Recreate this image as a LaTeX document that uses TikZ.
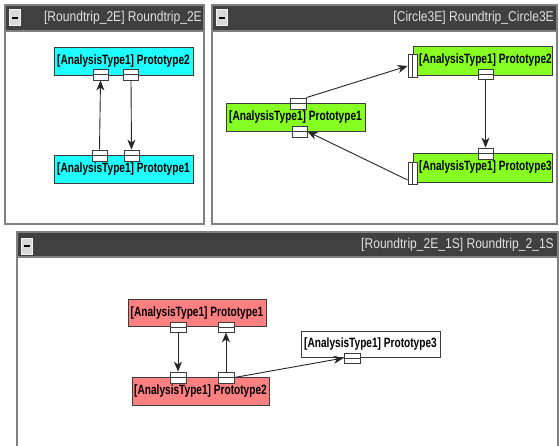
\documentclass[tikz,border=0pt]{standalone}
\usepackage{fontspec}
\usetikzlibrary{arrows.meta,calc}
\newfontfamily\boxfont[FakeStretch=0.75]{Liberation Sans}
\newfontfamily\titlefont[FakeStretch=0.85]{Liberation Sans}
\definecolor{barcol}{RGB}{64,64,64}
\definecolor{framecol}{RGB}{128,128,128}
\definecolor{titletext}{RGB}{224,224,224}
\definecolor{cyanbox}{RGB}{32,255,255}
\definecolor{greenbox}{RGB}{136,255,34}
\definecolor{redbox}{RGB}{255,128,128}
\definecolor{edgecol}{RGB}{60,60,60}
\tikzset{
  panel/.style={draw=framecol, line width=1.2pt, fill=white},
  titlebar/.style={fill=barcol, draw=framecol, line width=1.2pt},
  ttext/.style={text=titletext, font=\titlefont\fontsize{14.2}{16}\selectfont, inner sep=0pt, anchor=east},
  btn/.style={fill=black!15, draw=black!5, line width=0.8pt, minimum width=11pt, minimum height=16pt, inner sep=0pt},
  proto/.style={draw=edgecol, line width=1pt, minimum width=139pt, minimum height=28pt, inner sep=0pt, font=\boxfont\bfseries\fontsize{13.5}{15}\selectfont},
  hport/.style={draw=edgecol, fill=white, line width=0.8pt, minimum width=15pt, minimum height=11pt, inner sep=0pt,
    path picture={\draw[edgecol, line width=0.8pt] (path picture bounding box.west) -- (path picture bounding box.east);}},
  vport/.style={draw=edgecol, fill=white, line width=0.8pt, minimum width=9pt, minimum height=23pt, inner sep=0pt,
    path picture={\draw[edgecol, line width=0.8pt] (path picture bounding box.north) -- (path picture bounding box.south);}},
  arr/.style={draw=black!85, line width=0.9pt, -{Stealth[length=10pt,width=8pt,inset=3pt]}}
}
\begin{document}
\begin{tikzpicture}[x=1pt,y=-1pt]
\useasboundingbox (0,0) rectangle (559,445);
\begin{scope}
\clip (0,0) rectangle (559,445);
% panel 1
\draw[panel] (5,5) rectangle (204,224);
\draw[titlebar] (5,5) rectangle (204,31);
\node[btn] (b1) at (14.5,17.5) {};
\fill (b1.center) ++(-3,-1) rectangle ++(6,2);
\node[ttext] (t1) at (202,18) {[Roundtrip\_2E] Roundtrip\_2E};
% panel 2
\draw[panel] (212,5) rectangle (557,224);
\draw[titlebar] (212,5) rectangle (557,31);
\node[btn] (b2) at (221.5,17.5) {};
\fill (b2.center) ++(-3,-1) rectangle ++(6,2);
\node[ttext] (t2) at (554,18) {[Circle3E] Roundtrip\_Circle3E};
% panel 3
\draw[panel] (17,232) rectangle (558,460);
\draw[titlebar] (17,232) rectangle (558,257);
\node[btn] (b3) at (26.5,246) {};
\fill (b3.center) ++(-3,-1) rectangle ++(6,2);
\node[ttext] (t3) at (554,244.5) {[Roundtrip\_2E\_1S] Roundtrip\_2\_1S};
\end{scope}

% ---- panel 1 diagram
\node[proto, fill=cyanbox] (a2) at (123.5,61) {[AnalysisType1] Prototype2};
\node[proto, fill=cyanbox] (a1) at (123.5,169) {[AnalysisType1] Prototype1};
\node[hport] (pa) at (100.5,74.5) {};
\node[hport] (pb) at (131,74.5) {};
\node[hport] (pc) at (99.5,155.5) {};
\node[hport] (pd) at (131.5,155.5) {};
\draw[arr] (pc.north) -- (pa.south);
\draw[arr] (pb.south) -- (pd.north);

% ---- panel 2 diagram
\node[proto, fill=greenbox] (g1) at (295.5,117) {[AnalysisType1] Prototype1};
\node[proto, fill=greenbox, minimum height=29pt] (g2) at (482.5,60.5) {\hspace*{6pt}[AnalysisType1] Prototype2};
\node[proto, fill=greenbox, minimum height=29pt] (g3) at (482.5,167.5) {\hspace*{6pt}[AnalysisType1] Prototype3};
\node[hport, minimum width=16pt] (q1) at (298,103.5) {};
\node[hport] (q2) at (299.5,131.5) {};
\node[vport] (q3) at (412.5,66) {};
\node[hport, minimum height=10pt] (q4) at (485.5,74) {};
\node[hport] (q5) at (485.5,153.5) {};
\node[vport, minimum height=22pt] (q6) at (412.5,173) {};
\draw[arr] (q1.north east) -- (q3.west);
\draw[arr] (q4.south) -- (q5.north);
\draw[arr] ([yshift=-7pt]q6.west) -- (q2.east);

% ---- panel 3 diagram
\node[proto, fill=redbox, minimum width=138pt, minimum height=27pt] (r1n) at (197,313) {[AnalysisType1] Prototype1};
\node[proto, fill=redbox, minimum width=137pt] (r2n) at (200.5,391) {[AnalysisType1] Prototype2};
\node[proto, fill=white, minimum height=26pt] (r3n) at (370.5,344) {[AnalysisType1] Prototype3};
\node[hport, minimum width=16pt, minimum height=10pt] (r1) at (178,327) {};
\node[hport, minimum width=16pt, minimum height=10pt] (r2) at (226,327) {};
\node[hport, minimum width=16pt] (r3) at (178,377.5) {};
\node[hport, minimum width=16pt] (r4) at (226,377.5) {};
\node[hport, minimum width=16pt, minimum height=10pt] (r5) at (352,358) {};
\draw[arr] (r1.south) -- (r3.north);
\draw[arr] (r4.north) -- (r2.south);
\draw[arr] (r4.east) -- (r5.west);
\end{tikzpicture}
\end{document}
